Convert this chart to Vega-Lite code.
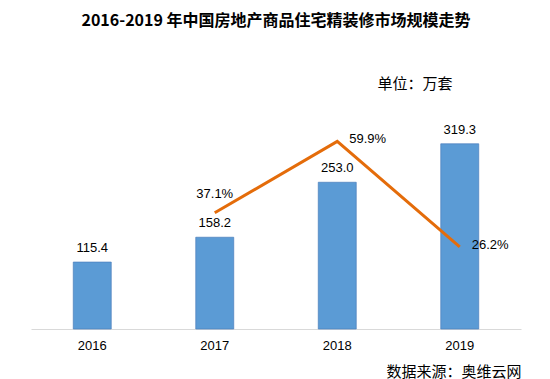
{
  "$schema": "https://vega.github.io/schema/vega-lite/v6.json",
  "autosize": "none",
  "width": 490,
  "height": 203,
  "padding": {"left": 31, "top": 126, "right": 29, "bottom": 50},
  "background": "#ffffff",
  "config": {"view": {"stroke": null}, "font": "Liberation Sans"},
  "title": {
    "text": "2016-2019 年中国房地产商品住宅精装修市场规模走势",
    "font": "Noto Sans CJK SC",
    "fontSize": 16,
    "fontWeight": "bold",
    "color": "#000000",
    "anchor": "middle",
    "frame": "group",
    "offset": 47
  },
  "datasets": {
    "market": [
      {"year": "2016", "value": 115.4, "rate": null},
      {"year": "2017", "value": 158.2, "rate": 0.371},
      {"year": "2018", "value": 253.0, "rate": 0.599},
      {"year": "2019", "value": 319.3, "rate": 0.262}
    ]
  },
  "data": {"name": "market"},
  "encoding": {
    "x": {
      "field": "year",
      "type": "ordinal",
      "scale": {"paddingInner": 0.69, "paddingOuter": 0.345},
      "axis": {
        "title": "数据来源：奥维云网",
        "titleFont": "Noto Sans CJK SC",
        "titleFontSize": 15,
        "titleFontWeight": "normal",
        "titleColor": "#000000",
        "titleAnchor": "end",
        "titleAlign": "right",
        "titleBaseline": "alphabetic",
        "titleY": 47,
        "labelAngle": 0,
        "labelFontSize": 13,
        "labelColor": "#000000",
        "labelPadding": 10,
        "ticks": false,
        "domainColor": "#D9D9D9",
        "domainWidth": 1
      }
    }
  },
  "layer": [
    {
      "layer": [
        {
          "mark": {"type": "bar", "color": "#5B9BD5", "stroke": "#4A7EBB", "strokeWidth": 0.7},
          "encoding": {
            "y": {
              "field": "value",
              "type": "quantitative",
              "scale": {"domain": [0, 350], "nice": false},
              "axis": {
                "title": "单位：万套",
                "titleFont": "Noto Sans CJK SC",
                "titleFontSize": 15,
                "titleFontWeight": "normal",
                "titleColor": "#000000",
                "titleAngle": 0,
                "titleAlign": "left",
                "titleBaseline": "alphabetic",
                "titleX": 346,
                "titleY": -38,
                "labels": false,
                "ticks": false,
                "domain": false,
                "grid": false
              }
            }
          }
        },
        {
          "mark": {"type": "text", "baseline": "bottom", "dy": -7, "fontSize": 13, "color": "#000000"},
          "encoding": {
            "y": {"field": "value", "type": "quantitative"},
            "text": {"field": "value", "type": "quantitative", "format": ".1f"}
          }
        }
      ]
    },
    {
      "transform": [{"filter": "datum.rate != null"}],
      "layer": [
        {
          "mark": {"type": "line", "color": "#E46C0A", "strokeWidth": 3},
          "encoding": {
            "x": {"field": "year", "type": "ordinal", "bandPosition": 0.5},
            "y": {
              "field": "rate",
              "type": "quantitative",
              "scale": {"domain": [0, 0.648], "nice": false},
              "axis": null
            }
          }
        },
        {
          "transform": [{"filter": "datum.year == '2017'"}],
          "mark": {"type": "text", "baseline": "bottom", "dy": -12, "fontSize": 13, "color": "#000000"},
          "encoding": {
            "x": {"field": "year", "type": "ordinal", "bandPosition": 0.5},
            "y": {"field": "rate", "type": "quantitative"},
            "text": {"field": "rate", "type": "quantitative", "format": ".1%"}
          }
        },
        {
          "transform": [{"filter": "datum.year != '2017'"}],
          "mark": {"type": "text", "align": "left", "baseline": "middle", "dx": 12, "dy": -2, "fontSize": 13, "color": "#000000"},
          "encoding": {
            "x": {"field": "year", "type": "ordinal", "bandPosition": 0.5},
            "y": {"field": "rate", "type": "quantitative"},
            "text": {"field": "rate", "type": "quantitative", "format": ".1%"}
          }
        }
      ]
    }
  ],
  "resolve": {"scale": {"y": "independent"}}
}
